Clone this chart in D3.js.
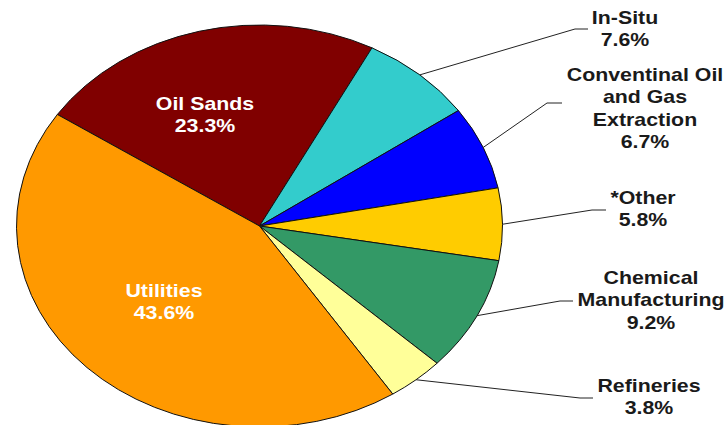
<!DOCTYPE html>
<html>
<head>
<meta charset="utf-8">
<script src="https://cdn.jsdelivr.net/npm/d3@7"></script>
<style>
  html, body { margin: 0; padding: 0; background: #fff; }
  svg { display: block; }
  text { font-family: "Liberation Sans", Arial, sans-serif; font-weight: bold; }
</style>
</head>
<body>
<svg id="chart" width="727" height="425"></svg>
<script>
// Emission shares by sector (percent)
const categories = ["Oil Sands", "In-Situ", "Conventinal Oil and Gas Extraction", "*Other", "Chemical Manufacturing", "Refineries", "Utilities"];
const shares = [23.3, 7.6, 6.7, 5.8, 9.2, 3.8, 43.6];
const labelLines = [["Oil Sands"], ["In-Situ"], ["Conventinal Oil", "and Gas", "Extraction"], ["*Other"], ["Chemical", "Manufacturing"], ["Refineries"], ["Utilities"]];
const colors = ["#800000", "#33CCCC", "#0000FF", "#FFCC00", "#339966", "#FFFF99", "#FF9900"];

// Layout
const W = 727, H = 425;
const cx = 259.5, cy = 226, rx = 243, ry = 201;
const textScaleX = 1.22;
const fontSize = 17.5;
const lineHeight = 22.5;
// label anchor: inside (white) or outside with leader line ending at `end`
const labelLayout = [
  { inside: true, x: 205, y: 110 },
  { x: 625, y: 24, elbow: [575, 29], end: [588, 29] },
  { x: 645, y: 81, elbow: [547, 103], end: [562, 103] },
  { x: 643, y: 204, elbow: [592, 210], end: [606, 210] },
  { x: 651, y: 284, elbow: [560, 301], end: [573, 301] },
  { x: 649, y: 392, elbow: [580, 398], end: [593, 398] },
  { inside: true, x: 164, y: 297 }
];

const svg = d3.select("#chart");
svg.append("rect").attr("width", W).attr("height", H).attr("fill", "#fff");

const startAngle = -56.3 * Math.PI / 180;
const pie = d3.pie().sort(null).value(d => d)
  .startAngle(startAngle).endAngle(startAngle + 2 * Math.PI);
const arcs = pie(shares);
const arc = d3.arc().innerRadius(0).outerRadius(ry);

const g = svg.append("g").attr("transform", `translate(${cx},${cy})`);
g.append("g")
  .attr("transform", `scale(${rx / ry},1)`)
  .selectAll("path")
  .data(arcs)
  .join("path")
  .attr("d", arc)
  .attr("fill", (d, i) => colors[i])
  .attr("stroke", "#111")
  .attr("stroke-width", 1)
  .attr("vector-effect", "non-scaling-stroke")
  .attr("stroke-linejoin", "round");

const fmt = v => d3.format(".1f")(v) + "%";

// leader lines from the rim at each slice's mid-angle
arcs.forEach((d, i) => {
  const L = labelLayout[i];
  if (L.inside) return;
  const a = (d.startAngle + d.endAngle) / 2;
  const p0 = [cx + rx * Math.sin(a), cy - ry * Math.cos(a)];
  svg.append("polyline")
    .attr("points", [p0, L.elbow, L.end].map(p => p.join(",")).join(" "))
    .attr("fill", "none")
    .attr("stroke", "#222")
    .attr("stroke-width", 1);
});

// labels
arcs.forEach((d, i) => {
  const L = labelLayout[i];
  const lines = labelLines[i].concat([fmt(shares[i])]);
  const t = svg.append("text")
    .attr("transform", `translate(${L.x},${L.y}) scale(${textScaleX},1)`)
    .attr("text-anchor", "middle")
    .attr("font-size", fontSize)
    .attr("fill", L.inside ? "#fff" : "#1a1a1a");
  lines.forEach((s, k) => {
    t.append("tspan").attr("x", 0).attr("y", k * lineHeight).text(s);
  });
});
</script>
</body>
</html>
